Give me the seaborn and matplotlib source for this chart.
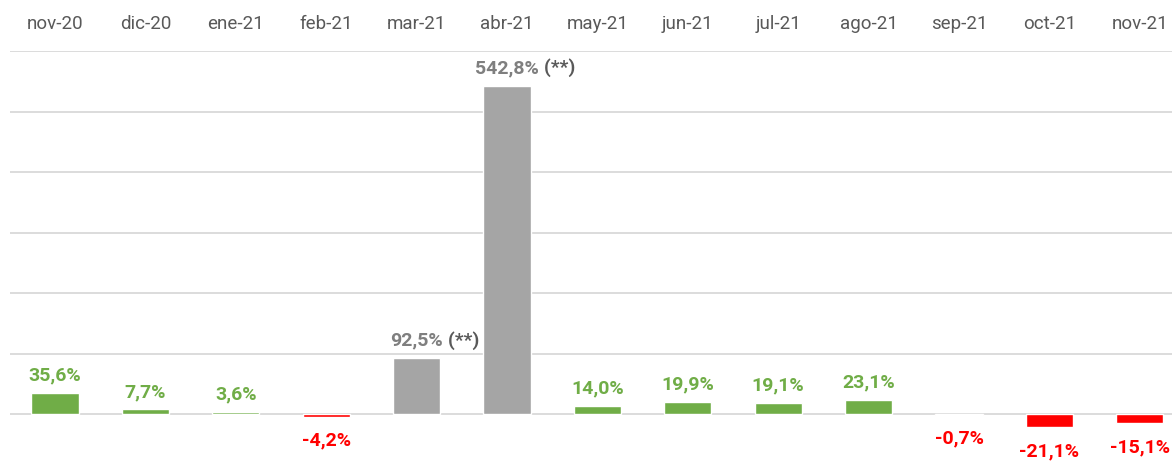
import numpy as np
import pandas as pd
import matplotlib
matplotlib.use("Agg")
import matplotlib.pyplot as plt
import seaborn as sns

# ------------------------------------------------------------
# Data
# ------------------------------------------------------------
months = ['nov-20', 'dic-20', 'ene-21', 'feb-21', 'mar-21', 'abr-21', 'may-21',
          'jun-21', 'jul-21', 'ago-21', 'sep-21', 'oct-21', 'nov-21']
values = [35.6, 7.7, 3.6, -4.2, 92.5, 542.8, 14.0, 19.9, 19.1, 23.1, -0.7, -21.1, -15.1]
flagged = ['mar-21', 'abr-21']   # marked with (**)

GREEN, RED, GREY = '#70AD47', '#FF0000', '#A5A5A5'

sns.set_theme(style="white")
plt.rcParams['font.family'] = ['Roboto', 'DejaVu Sans']

df = pd.DataFrame({'mes': months, 'var': values})
colors = [GREY if m in flagged else (GREEN if v >= 0 else RED) for m, v in zip(months, values)]

W, H = 1172, 471
fig = plt.figure(figsize=(W / 100, H / 100), dpi=100)
# axes runs a little past the right edge, like the original
ax = fig.add_axes([9.8 / W, 0, 1175.2 / W, 1 - 51 / H])

sns.barplot(data=df, x='mes', y='var', hue='mes', palette=colors, legend=False,
            width=0.52, saturation=1, ax=ax)

ax.set_ylim(-94, 600)
ax.set_xlim(-0.5, len(months) - 0.5)
ax.set_yticks(range(0, 601, 100))
ax.yaxis.grid(True, color='#D9D9D9', linewidth=1.3)
ax.set_axisbelow(True)
ax.set_yticklabels([])
ax.tick_params(axis='y', length=0)
ax.xaxis.tick_top()
ax.tick_params(axis='x', length=0, pad=13, labelsize=13.5, labelcolor='#595959')
ax.set_xlabel('')
ax.set_ylabel('')
for s in ax.spines.values():
    s.set_visible(False)

# value labels
fs = 14
for i, (m, v) in enumerate(zip(months, values)):
    txt = f"{v:.1f}".replace('.', ',') + '%'
    if m in flagged:
        t = ax.annotate(txt, (i, v), xytext=(0, 6), textcoords='offset points',
                        ha='center', va='bottom', fontsize=fs, fontweight='bold',
                        color='#7F7F7F')
        ax.annotate(' (**)', xy=(1, 0), xycoords=t, ha='left', va='bottom',
                    fontsize=fs, fontweight='bold', color='#595959')
    elif v >= 0:
        ax.annotate(txt, (i, v), xytext=(0, 6), textcoords='offset points',
                    ha='center', va='bottom', fontsize=fs, fontweight='bold',
                    color=GREEN)
    else:
        ax.annotate(txt, (i, v), xytext=(0, -11), textcoords='offset points',
                    ha='center', va='top', fontsize=fs, fontweight='bold',
                    color=RED)

plt.savefig("out.png", dpi=100)
